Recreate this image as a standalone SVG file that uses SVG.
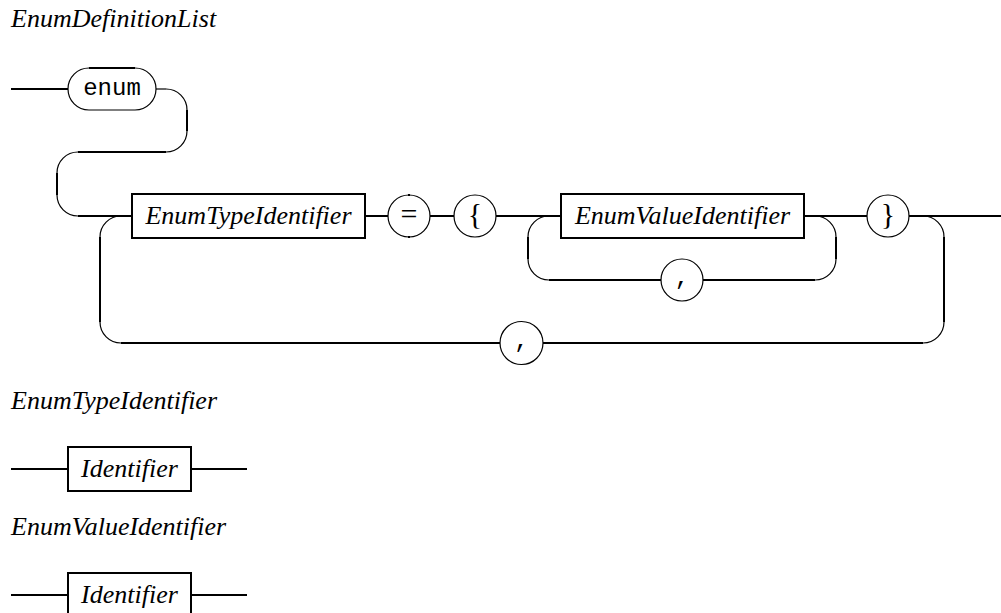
<svg xmlns="http://www.w3.org/2000/svg" width="1001" height="613" viewBox="0 0 1001 613">
  <style>
    .title { font-family: "Liberation Serif", "Times New Roman", serif; font-style: italic; font-size: 26px; fill: #000; }
    .nt { font-family: "Liberation Serif", "Times New Roman", serif; font-style: italic; font-size: 26px; fill: #000; text-anchor: middle; }
    .sym { font-family: "Liberation Serif", "Times New Roman", serif; font-size: 30px; fill: #000; text-anchor: middle; }
    .mono { font-family: "Liberation Mono", "Courier New", monospace; font-size: 24px; fill: #000; text-anchor: middle; }
    .box { fill: #fff; stroke: #000; stroke-width: 2; }
    .term { fill: #fff; stroke: #000; stroke-width: 1.2; }
    .line { fill: none; stroke: #000; stroke-width: 2; }
    .arc { fill: none; stroke: #000; stroke-width: 1.2; }
  </style>

  <!-- rule titles -->
  <text class="title" x="11" y="27">EnumDefinitionList</text>
  <text class="title" x="11" y="409">EnumTypeIdentifier</text>
  <text class="title" x="11" y="535">EnumValueIdentifier</text>

  <!-- track lines and curves -->
  <g id="connectors">
    <!-- entry into enum keyword -->
    <line class="line" x1="11" y1="89" x2="68" y2="89"/>
    <!-- S-bend down to the main row -->
    <line class="arc" x1="156" y1="89" x2="166" y2="89"/>
    <path class="arc" d="M166,89 A21,21 0 0 1 187,110"/>
    <line class="line" x1="187" y1="110" x2="187" y2="131"/>
    <path class="arc" d="M187,131 A21,21 0 0 1 166,152"/>
    <line class="line" x1="166" y1="152" x2="78" y2="152"/>
    <path class="arc" d="M78,152 A21,21 0 0 0 57,173"/>
    <line class="line" x1="57" y1="173" x2="57" y2="195"/>
    <path class="arc" d="M57,195 A21,21 0 0 0 78,216"/>

    <!-- main row -->
    <line class="line" x1="78" y1="216" x2="132" y2="216"/>
    <line class="line" x1="365" y1="216" x2="388" y2="216"/>
    <line class="line" x1="430" y1="216" x2="454" y2="216"/>
    <line class="line" x1="496" y1="216" x2="561" y2="216"/>
    <line class="line" x1="804" y1="216" x2="867" y2="216"/>
    <line class="line" x1="909" y1="216" x2="1001" y2="216"/>

    <!-- outer repeat loop with comma -->
    <path class="arc" d="M121,216 A21,21 0 0 0 100,237"/>
    <line class="line" x1="100" y1="237" x2="100" y2="322"/>
    <path class="arc" d="M100,322 A21,21 0 0 0 121,343"/>
    <line class="line" x1="121" y1="343" x2="500" y2="343"/>
    <line class="line" x1="543" y1="343" x2="923" y2="343"/>
    <path class="arc" d="M923,343 A21,21 0 0 0 944,322"/>
    <line class="line" x1="944" y1="322" x2="944" y2="237"/>
    <path class="arc" d="M944,237 A21,21 0 0 0 923,216"/>

    <!-- inner repeat loop with comma -->
    <path class="arc" d="M549,216 A21,21 0 0 0 528,237"/>
    <line class="line" x1="528" y1="237" x2="528" y2="259"/>
    <path class="arc" d="M528,259 A21,21 0 0 0 549,280"/>
    <line class="line" x1="549" y1="280" x2="661" y2="280"/>
    <line class="line" x1="703" y1="280" x2="815" y2="280"/>
    <path class="arc" d="M815,280 A21,21 0 0 0 836,259"/>
    <line class="line" x1="836" y1="259" x2="836" y2="237"/>
    <path class="arc" d="M836,237 A21,21 0 0 0 815,216"/>

    <!-- small rules -->
    <line class="line" x1="11" y1="469" x2="68" y2="469"/>
    <line class="line" x1="191" y1="469" x2="247" y2="469"/>
    <line class="line" x1="11" y1="595" x2="68" y2="595"/>
    <line class="line" x1="191" y1="595" x2="247" y2="595"/>
  </g>

  <!-- keyword enum -->
  <g id="kw-enum">
    <rect class="term" x="68" y="68" width="88" height="42" rx="21" ry="21"/>
    <line class="line" x1="89" y1="68" x2="135" y2="68"/>
    <text class="mono" x="112" y="95">enum</text>
  </g>

  <g id="nt-enumtype">
    <rect class="box" x="132" y="194" width="233" height="44"/>
    <text class="nt" x="248.5" y="224">EnumTypeIdentifier</text>
  </g>

  <g id="t-equals">
    <circle class="term" cx="409" cy="216" r="21"/>
    <line class="line" x1="409" y1="194" x2="409" y2="196"/>
    <line class="line" x1="409" y1="236" x2="409" y2="238"/>
    <text class="sym" x="409" y="224">=</text>
  </g>

  <g id="t-lbrace">
    <circle class="term" cx="475" cy="216" r="21"/>
    <text class="sym" x="475" y="224">{</text>
  </g>

  <g id="nt-enumvalue">
    <rect class="box" x="561" y="194" width="243" height="44"/>
    <text class="nt" x="682.5" y="224">EnumValueIdentifier</text>
  </g>

  <g id="t-comma-inner">
    <circle class="term" cx="682" cy="280" r="21"/>
    <text class="mono" x="682" y="285">,</text>
  </g>

  <g id="t-rbrace">
    <circle class="term" cx="888" cy="216" r="21"/>
    <text class="sym" x="888" y="224">}</text>
  </g>

  <g id="t-comma-outer">
    <circle class="term" cx="521.5" cy="343" r="21.5"/>
    <text class="mono" x="521.5" y="348">,</text>
  </g>

  <g id="nt-identifier-1">
    <rect class="box" x="68" y="447" width="123" height="44"/>
    <text class="nt" x="129.5" y="477">Identifier</text>
  </g>

  <g id="nt-identifier-2">
    <rect class="box" x="68" y="573" width="123" height="44"/>
    <text class="nt" x="129.5" y="603">Identifier</text>
  </g>
</svg>
